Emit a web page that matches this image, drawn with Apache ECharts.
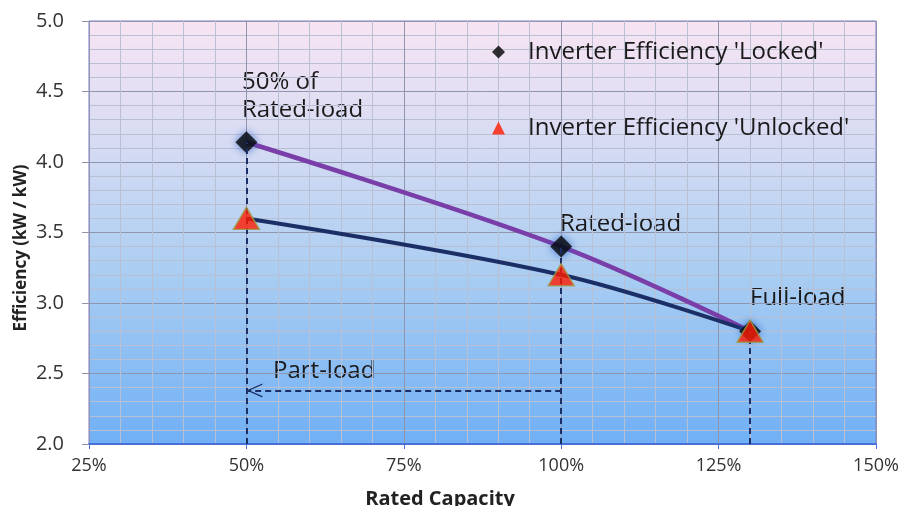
<!DOCTYPE html>
<html>
<head>
<meta charset="utf-8">
<script src="https://cdn.jsdelivr.net/npm/echarts@6/dist/echarts.min.js"></script>
<style>html,body{margin:0;padding:0;background:#fff}#c{width:905px;height:506px}</style>
</head>
<body>
<div id="c"></div>
<script>
// ---- data ----
const capacity = [50, 100, 130];                 // % of rated capacity
const lockedEff = [4.14, 3.4, 2.8];              // Inverter Efficiency 'Locked'
const unlockedEff = [3.6, 3.2, 2.8];             // Inverter Efficiency 'Unlocked'
const seriesNames = ["Inverter Efficiency 'Locked'", "Inverter Efficiency 'Unlocked'"];
const partLoadFrom = 100, partLoadTo = 50, partLoadLevel = 2.38;
const xRange = [25, 150], xStep = 25;
const yRange = [2.0, 5.0], yStep = 0.5;
const annotations = ["50% of\nRated-load", "Rated-load", "Full-load", "Part-load"];
const axisTitles = ["Rated Capacity", "Efficiency (kW / kW)"];

const FONT = "Open Sans";
const navy = '#1b2f66';
const purple = '#7a3ea8';

const chart = echarts.init(document.getElementById('c'), null, {renderer: 'canvas'});

const pair = (xs, ys) => xs.map((x, i) => [x, ys[i]]);

const guideLines = capacity.map((x, i) => [
  {coord: [x, yRange[0]]},
  {coord: [x, Math.max(lockedEff[i], unlockedEff[i])]}
]);
const arrowLine = [
  {coord: [partLoadFrom, partLoadLevel], symbol: 'none'},
  {coord: [partLoadTo, partLoadLevel],
   symbol: 'path://M0,16 L7,0 L14,16 L12.6,16 L7,3.2 L1.4,16 Z',
   symbolSize: [14, 16], symbolOffset: [0, '50%'],
   lineStyle: {color: navy, width: 2, type: [6, 4]}}
];

const annFont = '24px "Open Sans"';
const option = {
  animation: false,
  textStyle: {fontFamily: FONT},
  grid: {
    left: 89, right: 29, top: 21, bottom: 62,
    containLabel: false, outerBoundsMode: 'none',
    show: true,
    borderColor: '#7a7ad0', borderWidth: 1,
    backgroundColor: new echarts.graphic.LinearGradient(0, 0, 0, 1, [
      {offset: 0, color: '#f8e4f3'},
      {offset: 0.3, color: '#d5dbf3'},
      {offset: 0.6, color: '#a9cdf2'},
      {offset: 1, color: '#70b0f6'}
    ])
  },
  xAxis: {
    type: 'value', min: xRange[0], max: xRange[1], interval: xStep,
    axisLine: {show: true, lineStyle: {color: '#4a6fd6', width: 2}},
    axisTick: {show: true, length: 5, lineStyle: {color: '#4a6fd6'}},
    axisLabel: {formatter: '{value}%', fontSize: 18, color: '#333', margin: 13},
    splitLine: {show: true, lineStyle: {color: '#8f95ad', width: 1}},
    minorTick: {show: false, splitNumber: 5},
    minorSplitLine: {show: true, lineStyle: {color: '#b9c0d3', width: 1}}
  },
  yAxis: {
    type: 'value', min: yRange[0], max: yRange[1], interval: yStep,
    axisLine: {show: true, lineStyle: {color: '#8f95ad', width: 1}},
    axisTick: {show: true, length: 7, lineStyle: {color: '#8f95ad'}},
    axisLabel: {formatter: v => v.toFixed(1), fontSize: 20, color: '#333', margin: 25},
    splitLine: {show: true, lineStyle: {color: '#8f95ad', width: 1}},
    minorTick: {show: false, splitNumber: 5},
    minorSplitLine: {show: true, lineStyle: {color: '#b9c0d3', width: 1}}
  },
  legend: {
    orient: 'vertical', left: 492, top: 40, padding: 0,
    itemGap: 52, itemWidth: 13, itemHeight: 13,
    textStyle: {fontFamily: FONT, fontSize: 24, color: '#1a1a1a', padding: [0, 0, 0, 18]},
    data: [
      {name: seriesNames[0], icon: 'diamond', itemStyle: {color: '#000', borderWidth: 0, shadowBlur: 0}},
      {name: seriesNames[1], icon: 'triangle', itemStyle: {color: '#ff1a00', borderWidth: 0}}
    ]
  },
  series: [
    {
      name: 'guides', type: 'line', data: [], silent: true,
      markLine: {
        silent: true, symbol: 'none', animation: false,
        label: {show: false},
        lineStyle: {color: navy, width: 2, type: [6, 4]},
        data: guideLines.concat([arrowLine])
      }
    },
    {
      name: 'lockedCurve', type: 'line', smooth: 0.35, symbol: 'none', silent: true,
      data: pair(capacity, lockedEff),
      lineStyle: {color: purple, width: 4.5}, z: 3
    },
    {
      name: 'unlockedCurve', type: 'line', smooth: 0.35, symbol: 'none', silent: true,
      data: pair(capacity, unlockedEff),
      lineStyle: {color: navy, width: 4}, z: 3
    },
    {
      name: seriesNames[0], type: 'scatter', symbol: 'diamond', symbolSize: 22,
      data: pair(capacity, lockedEff),
      itemStyle: {color: '#050505', shadowColor: 'rgba(40,90,200,0.95)', shadowBlur: 8}, z: 4
    },
    {
      name: seriesNames[1], type: 'scatter', symbol: 'triangle', symbolSize: [26, 22],
      data: pair(capacity, unlockedEff),
      itemStyle: {color: '#ff1a00', borderColor: '#9f9a45', borderWidth: 1.5}, z: 5
    }
  ],
  graphic: [
    {type: 'text', x: 242, y: 96, style: {text: annotations[0], font: annFont, fill: '#1a1a1a', lineHeight: 28, verticalAlign: 'middle'}},
    {type: 'text', x: 560, y: 224, style: {text: annotations[1], font: annFont, fill: '#1a1a1a', verticalAlign: 'middle'}},
    {type: 'text', x: 750, y: 298, style: {text: annotations[2], font: annFont, fill: '#1a1a1a', verticalAlign: 'middle'}},
    {type: 'text', x: 273, y: 371, style: {text: annotations[3], font: annFont, fill: '#1a1a1a', verticalAlign: 'middle'}},
    {type: 'text', x: 440, y: 499, style: {text: axisTitles[0], font: 'bold 20px "Open Sans"', fill: '#222', align: 'center', verticalAlign: 'middle'}},
    {type: 'text', x: 21, y: 248, rotation: Math.PI / 2, style: {text: axisTitles[1], font: 'bold 17px "Open Sans"', fill: '#222', align: 'center', verticalAlign: 'middle'}}
  ]
};
chart.setOption(option);
</script>
</body>
</html>
